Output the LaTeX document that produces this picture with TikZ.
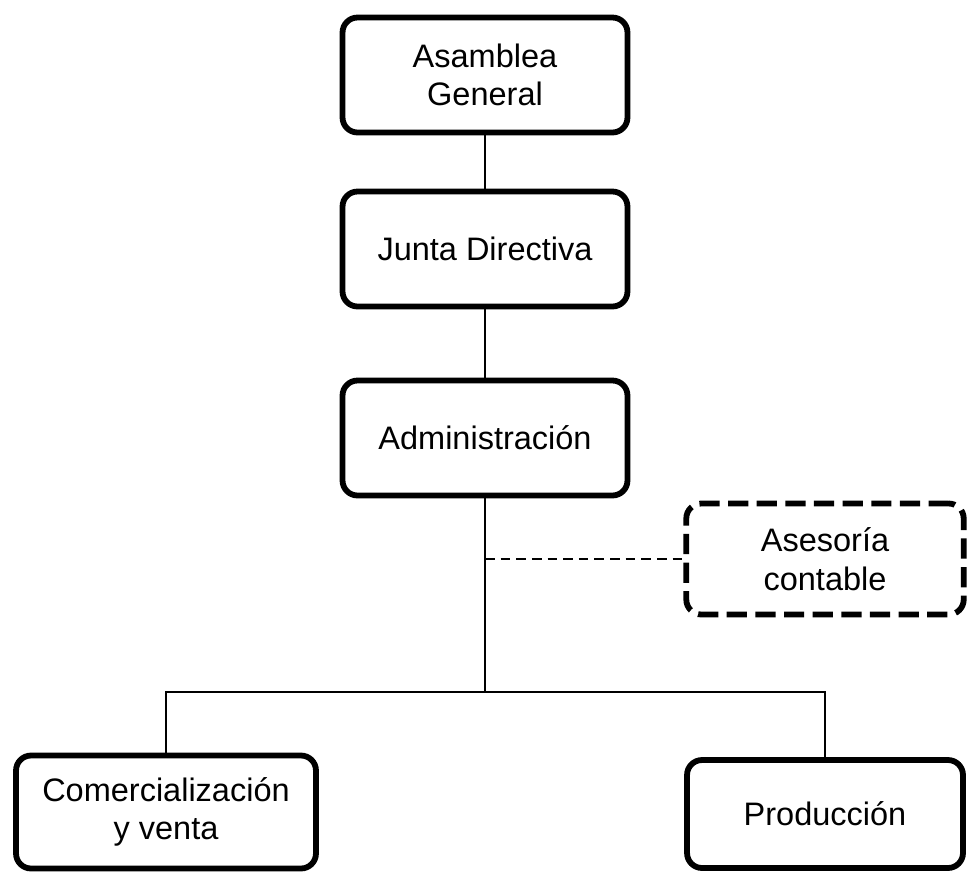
\documentclass[tikz,border=0pt]{standalone}
\usepackage{fontspec}
\setmainfont{Liberation Sans}
\usetikzlibrary{calc}

\begin{document}
\begin{tikzpicture}[
        x=0.02cm, y=-0.02cm,
        unit/.style={draw, line width=3.3pt, rounded corners=0.3cm,
            align=center, inner sep=0pt,
            minimum width=5.7cm, minimum height=2.3cm,
            font=\fontsize{18.5}{22}\selectfont},
        advisor/.style={unit, dash pattern=on 11.5pt off 4.8pt},
        link/.style={line width=0.7pt},
    ]

    \useasboundingbox (0,0) rectangle (969,877);

    \node[unit] (asamblea) at (485,75) {Asamblea\\General};
    \node[unit] (junta) at (485,249) {Junta Directiva};
    \node[unit] (admin) at (485,438) {Administración};
    \node[advisor, minimum width=5.55cm, minimum height=2.22cm] (asesoria) at (825,559) {Asesoría\\contable};
    \node[unit, minimum width=6.0cm, minimum height=2.26cm] (comercial) at (166,812) {Comercialización\\y venta};
    \node[unit, minimum width=5.52cm, minimum height=2.16cm] (produccion) at (825,814) {Producción};

    \coordinate (split) at (485,692);

    \draw[link] (asamblea) -- (junta);
    \draw[link] (junta) -- (admin);
    \draw[link] (admin.south) -- (split);
    \draw[link] (comercial.north) |- (split) -| (produccion.north);
    \draw[link, dash pattern=on 5.5pt off 3.4pt] (admin.south |- asesoria.west) -- (asesoria.west);

\end{tikzpicture}
\end{document}
